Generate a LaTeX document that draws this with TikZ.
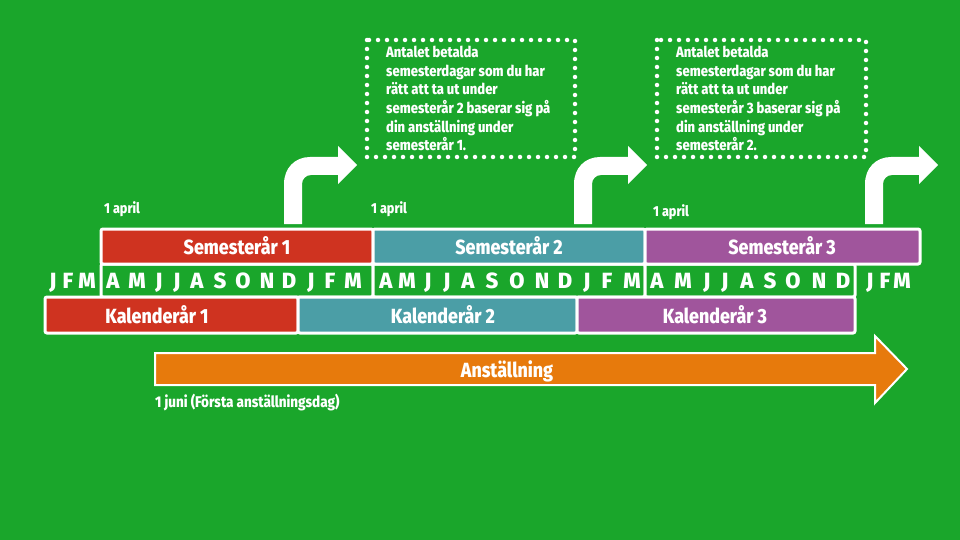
\documentclass[tikz,border=0pt]{standalone}
\usepackage{fontspec}
\setmainfont{Fira Sans}[FakeStretch=0.87,BoldFont={* ExtraBold}]
\newfontfamily\monthfont{Fira Sans}[BoldFont={* ExtraBold}]
\definecolor{bg}{RGB}{26,166,43}
\definecolor{cred}{RGB}{207,51,32}
\definecolor{cteal}{RGB}{75,158,166}
\definecolor{cpurple}{RGB}{160,85,156}
\definecolor{corange}{RGB}{231,122,12}
\begin{document}
\begin{tikzpicture}[x=1pt,y=-1pt,
  bar/.style={draw=white,line width=3pt,rounded corners=2pt,inner sep=0pt},
  lbl/.style={text=white,font=\fontsize{20.5}{24}\selectfont\bfseries,inner sep=0pt,anchor=base},
  mon/.style={text=white,font=\monthfont\fontsize{22}{24}\selectfont\bfseries,inner sep=0pt,anchor=base},
  small/.style={text=white,font=\fontsize{14.5}{17}\selectfont\bfseries,inner sep=0pt,anchor=base west},
  note/.style={text=white,font=\fontsize{15}{18.6}\selectfont\bfseries,align=left,inner sep=0pt,anchor=north west},
  dots/.style={draw=white,line width=4.5pt,line cap=round,dash pattern=on 0pt off 9pt}]

\fill[bg] (0,0) rectangle (960,540);
\useasboundingbox (0,0) rectangle (960,540);

% month rows (boxes)
\node[bar,fill=bg,minimum width=272pt,minimum height=33pt] (mb1) at (237,280.5) {};
\node[bar,fill=bg,minimum width=272pt,minimum height=33pt] (mb2) at (509,280.5) {};
\node[bar,fill=bg,minimum width=210pt,minimum height=33pt] (mb3) at (750,280.5) {};

% semester years
\node[bar,fill=cred,minimum width=272pt,minimum height=35pt] (s1) at (237,246.5) {};
\node[bar,fill=cteal,minimum width=272pt,minimum height=35pt] (s2) at (509,246.5) {};
\node[bar,fill=cpurple,minimum width=275pt,minimum height=35pt] (s3) at (782.5,246.5) {};

% calendar years
\node[bar,fill=cred,minimum width=253pt,minimum height=36pt] (k1) at (171.5,315) {};
\node[bar,fill=cteal,minimum width=279pt,minimum height=36pt] (k2) at (437.5,315) {};
\node[bar,fill=cpurple,minimum width=278pt,minimum height=36pt] (k3) at (716,315) {};

\node[lbl] (s1t) at (237,254) {Semesterår 1};
\node[lbl] (s2t) at (509,254) {Semesterår 2};
\node[lbl] (s3t) at (782,254) {Semesterår 3};
\node[lbl] (k1t) at (157,323) {Kalenderår 1};
\node[lbl] (k2t) at (443,323) {Kalenderår 2};
\node[lbl] (k3t) at (715,323) {Kalenderår 3};

% month letters
\foreach \x/\l [count=\i] in {53/J,68/F,87/M}
  \node[mon] (ma\i) at (\x,288.5) {\l};
\foreach \x/\l [count=\i] in {113/A,137/M,159/J,177/J,197/A,220/S,243/O,267/N,289/D,311/J,330/F,353/M}
  \node[mon] (mb\i) at (\x,288.5) {\l};
\foreach \x/\l [count=\i] in {386/A,407/M,428/J,447/J,468/A,492/S,517/O,542/N,565/D,587/J,607/F,632/M}
  \node[mon] (mc\i) at (\x,288.5) {\l};
\foreach \x/\l [count=\i] in {657/A,683/M,707/J,725/J,747/A,770/S,793/O,819/N,843/D}
  \node[mon] (md\i) at (\x,288.5) {\l};
\foreach \x/\l [count=\i] in {870/J,885/F,902/M}
  \node[mon] (me\i) at (\x,288.5) {\l};

% 1 april labels
\node[small] (ap1) at (104,213) {1 april};
\node[small] (ap2) at (371,213) {1 april};
\node[small] (ap3) at (653,216) {1 april};

% bent arrows
\foreach \dx in {0,290,581}{
  \begin{scope}[xshift=\dx pt]
    \fill[white] (284,224) -- (284,184)
      .. controls (284,168) and (295,157) .. (310,157)
      -- (338,157) -- (338,146) -- (357,165) -- (338,184) -- (338,175)
      -- (311,175) .. controls (306,175) and (302,179) .. (302,184)
      -- (302,224) -- cycle;
  \end{scope}
}

% dotted note boxes
\draw[dots] (367,40) rectangle (575,157);
\draw[dots] (657,40) rectangle (866,157);
\node[note] (n1) at (386,46) {Antalet betalda\\semesterdagar som du har\\rätt att ta ut under\\semesterår 2 baserar sig på\\din anställning under\\semesterår 1.};
\node[note] (n2) at (676,46) {Antalet betalda\\semesterdagar som du har\\rätt att ta ut under\\semesterår 3 baserar sig på\\din anställning under\\semesterår 2.};

% employment arrow
\filldraw[fill=corange,draw=white,line width=2pt,line join=miter]
  (155,353) -- (875,353) -- (875,336) -- (907,369) -- (875,403) -- (875,385) -- (155,385) -- cycle;
\node[lbl] (anst) at (507,377) {Anställning};
\node[small,font=\fontsize{15.5}{17}\selectfont\bfseries] (juni) at (155,407) {1 juni (Första anställningsdag)};
\end{tikzpicture}
\end{document}
